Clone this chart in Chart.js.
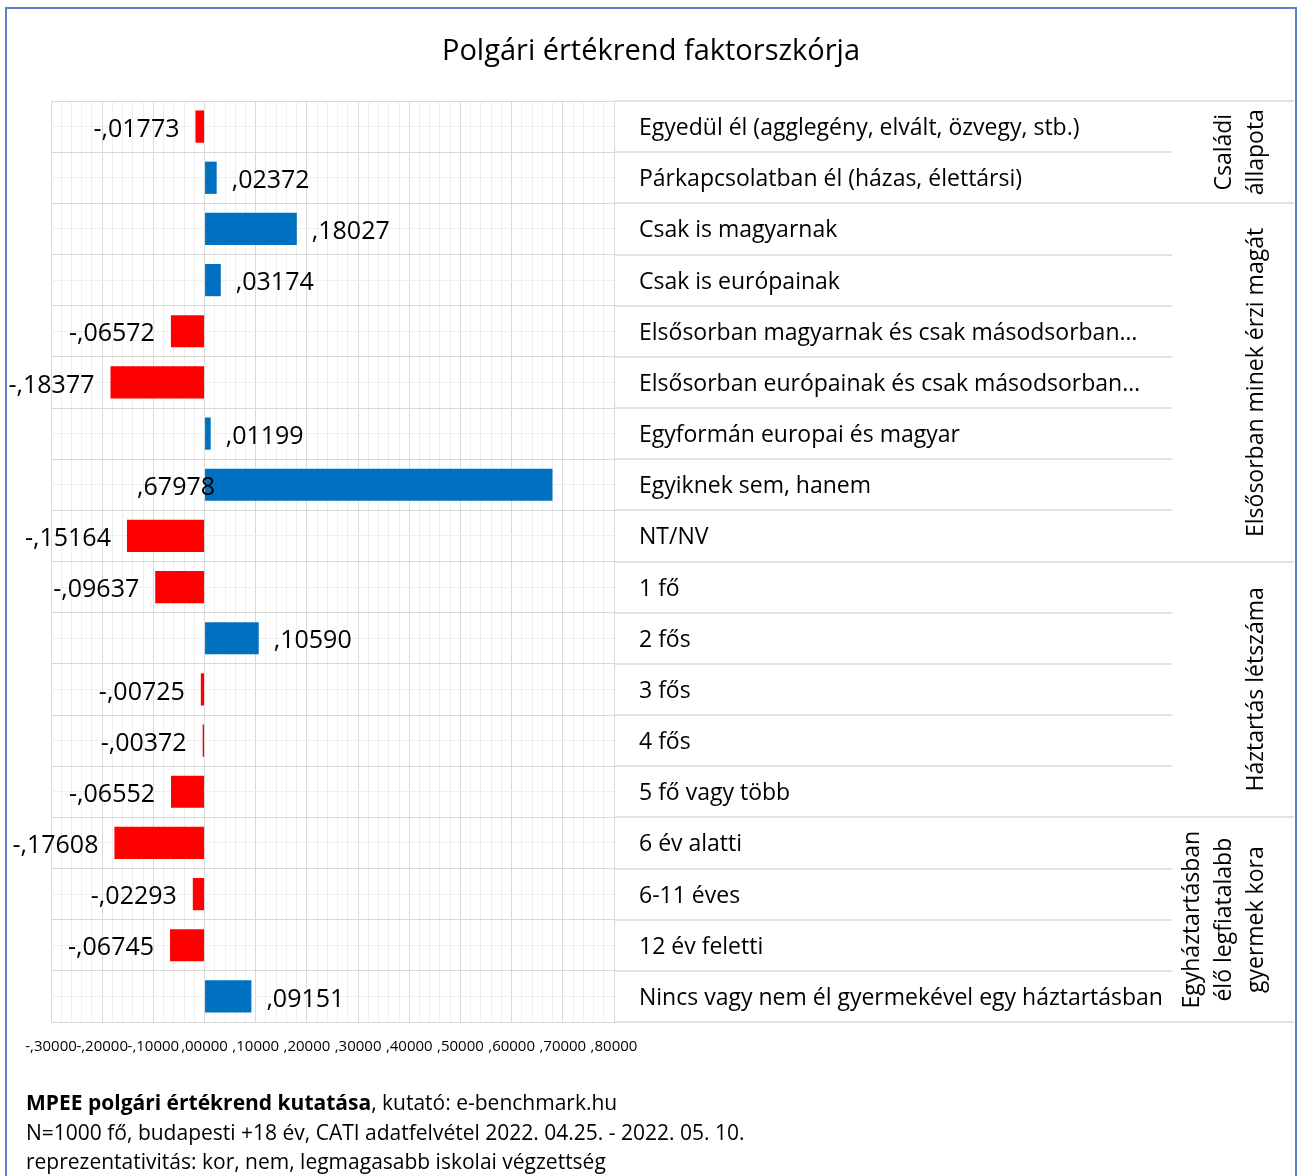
<!DOCTYPE html>
<html lang="hu">
<head>
<meta charset="UTF-8">
<title>Polgári értékrend faktorszkórja</title>
<style>
  body { margin: 0; background: #fff; font-family: "Open Sans", sans-serif; }
  .keret { position: absolute; left: 5px; top: 7px; width: 1288px; height: 1200px;
           border: 2px solid #5b7fd0; border-bottom: none; }
  #chart { position: absolute; left: 0; top: 0; }
  .cim { position: absolute; left: 0; top: 29px; width: 1302px; text-align: center;
         font-size: 29px; line-height: 40px; color: #000; }
  .labjegyzet { position: absolute; left: 26px; top: 1088px; font-size: 21px; line-height: 29.5px; color: #000; }
</style>
</head>
<body>
<div class="keret"></div>
<canvas id="chart" width="1298" height="1176"></canvas>
<div class="cim">Polgári értékrend faktorszkórja</div>
<div class="labjegyzet">
  <b>MPEE polgári értékrend kutatása</b>, kutató: e-benchmark.hu<br>
  N=1000 fő, budapesti +18 év, CATI adatfelvétel 2022. 04.25. - 2022. 05. 10.<br>
  reprezentativitás: kor, nem, legmagasabb iskolai végzettség
</div>

<script src="https://cdn.jsdelivr.net/npm/chart.js"></script>
<script>
// adatok
const kategoriak = [
  'Egyedül él (agglegény, elvált, özvegy, stb.)',
  'Párkapcsolatban él (házas, élettársi)',
  'Csak is magyarnak',
  'Csak is európainak',
  'Elsősorban magyarnak és csak másodsorban…',
  'Elsősorban európainak és csak másodsorban…',
  'Egyformán europai és magyar',
  'Egyiknek sem, hanem',
  'NT/NV',
  '1 fő',
  '2 fős',
  '3 fős',
  '4 fős',
  '5 fő vagy több',
  '6 év alatti',
  '6-11 éves',
  '12 év feletti',
  'Nincs vagy nem él gyermekével egy háztartásban'
];
const ertekek = [-0.01773, 0.02372, 0.18027, 0.03174, -0.06572, -0.18377, 0.01199, 0.67978, -0.15164,
  -0.09637, 0.10590, -0.00725, -0.00372, -0.06552, -0.17608, -0.02293, -0.06745, 0.09151];
const csoportNevek = [
  ['Családi', 'állapota'],
  ['Elsősorban minek érzi magát'],
  ['Háztartás létszáma'],
  ['Egyháztartásban', 'élő legfiatalabb', 'gyermek kora']
];
const csoportMeret = [2, 7, 5, 4];
const xMin = -0.3, xMax = 0.8, xLepes = 0.1, xKisLepes = 0.02;

const KEK = '#0070c0', PIROS = '#ff0000';
const RACS = '#d9d9d9', KISRACS = '#efefef';
const BETU = 'Open Sans';

function formaz(v) {
  const s = Math.abs(v).toFixed(5).split('.')[1];
  return (v < -1e-9 ? '-,' : ',') + s;
}

// ertekcimkek a savok mellett
const ertekCimkek = {
  id: 'ertekCimkek',
  afterDatasetsDraw(chart) {
    const ctx = chart.ctx;
    const meta = chart.getDatasetMeta(0);
    ctx.save();
    ctx.font = '25px "' + BETU + '"';
    ctx.fillStyle = '#000';
    ctx.textBaseline = 'middle';
    meta.data.forEach((bar, i) => {
      const v = ertekek[i];
      const y = bar.y + 3;
      if (v > 0.5) {
        ctx.textAlign = 'right';
        ctx.fillText(formaz(v), bar.base + 10, y);
      } else if (v >= 0) {
        ctx.textAlign = 'left';
        ctx.fillText(formaz(v), bar.x + 15, y);
      } else {
        ctx.textAlign = 'right';
        ctx.fillText(formaz(v), bar.x - 16, y);
      }
    });
    ctx.restore();
  }
};

// elvalaszto vonalak a cimke oszlopban + csoport feliratok
const csoportok = {
  id: 'csoportok',
  afterDraw(chart) {
    const ctx = chart.ctx;
    const ys = chart.scales.y;
    const area = chart.chartArea;
    const jobb = 1294;
    const hatarok = [0];
    csoportMeret.forEach(n => hatarok.push(hatarok[hatarok.length - 1] + n));
    ctx.save();
    ctx.strokeStyle = RACS;
    ctx.lineWidth = 1.5;
    for (let i = 0; i <= kategoriak.length; i++) {
      const y = Math.round(ys.getPixelForValue(i - 0.5));
      ctx.beginPath();
      ctx.moveTo(area.right, y);
      ctx.lineTo(hatarok.includes(i) ? jobb : ys.right, y);
      ctx.stroke();
    }
    ctx.fillStyle = '#000';
    ctx.font = '23px "' + BETU + '"';
    ctx.textAlign = 'center';
    ctx.textBaseline = 'middle';
    csoportNevek.forEach((sorok, g) => {
      const y0 = ys.getPixelForValue(hatarok[g] - 0.5);
      const y1 = ys.getPixelForValue(hatarok[g + 1] - 0.5);
      const yk = (y0 + y1) / 2;
      sorok.forEach((s, k) => {
        const x = 1256 - (sorok.length - 1 - k) * 32;
        ctx.save();
        ctx.translate(x, yk);
        ctx.rotate(-Math.PI / 2);
        ctx.fillText(s, 0, 0);
        ctx.restore();
      });
    });
    ctx.restore();
  }
};

new Chart(document.getElementById('chart'), {
  type: 'bar',
  data: {
    labels: kategoriak,
    datasets: [{
      data: ertekek,
      backgroundColor: ertekek.map(v => v < 0 ? PIROS : KEK),
      barPercentage: 0.63,
      categoryPercentage: 1
    }]
  },
  options: {
    indexAxis: 'y',
    responsive: false,
    animation: false,
    layout: { padding: { left: 51, right: 126, top: 101, bottom: 114 } },
    plugins: {
      legend: { display: false },
      tooltip: { enabled: false }
    },
    scales: {
      xKis: {
        type: 'linear', position: 'bottom', axis: 'x',
        min: xMin, max: xMax, z: -1,
        ticks: { display: false, stepSize: xKisLepes },
        grid: { color: KISRACS, drawTicks: false },
        border: { display: false },
        afterFit(s) { s.height = 0; }
      },
      x: {
        type: 'linear', position: 'bottom',
        min: xMin, max: xMax,
        ticks: {
          stepSize: xLepes, autoSkip: false, maxRotation: 0, padding: 16,
          color: '#000', font: { family: BETU, size: 15 },
          callback: v => formaz(v)
        },
        grid: { color: RACS, drawTicks: false },
        border: { color: RACS },
        afterFit(s) { s.height = 40; }
      },
      yKis: {
        type: 'category', position: 'right', axis: 'y', offset: true, z: -1,
        ticks: { display: false },
        grid: { color: KISRACS, offset: false, drawTicks: false },
        border: { display: false },
        afterFit(s) { s.width = 0; }
      },
      y: {
        type: 'category', position: 'right', offset: true,
        ticks: { color: '#000', font: { family: BETU, size: 23 }, padding: 25, labelOffset: 2 },
        grid: { color: RACS, offset: true, drawTicks: false },
        border: { color: RACS },
        afterFit(s) { s.width = 558; }
      }
    }
  },
  plugins: [ertekCimkek, csoportok]
});
</script>
</body>
</html>
